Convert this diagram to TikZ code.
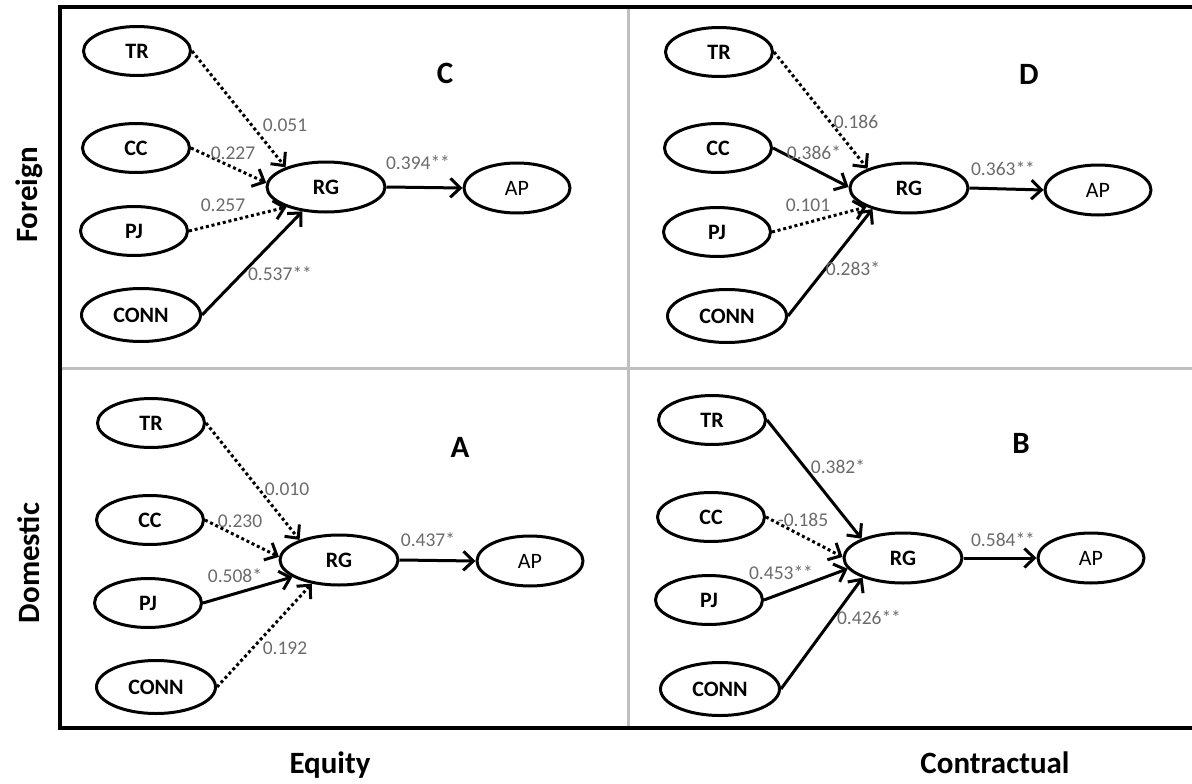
\documentclass[tikz,border=0pt]{standalone}
\usepackage{fontspec}
\setmainfont{Carlito}
\usepackage{tikz}
\usetikzlibrary{shapes.geometric,arrows.meta}
\tikzset{
  latent/.style={ellipse,draw,line width=3pt,inner sep=0pt,
    minimum width=107pt,minimum height=49pt,
    font=\fontsize{22}{26}\selectfont\bfseries},
  wide/.style={minimum width=119pt,minimum height=53pt},
  central/.style={minimum width=118pt,minimum height=50pt},
  outcome/.style={minimum width=106pt,minimum height=50pt,
    font=\fontsize{22}{26}\selectfont},
  sig/.style={-{Straight Barb[length=10pt,width=19pt]},line width=3pt},
  nsig/.style={sig,dash pattern=on 3pt off 2.8pt},
  coef/.style={inner sep=0pt,text=black!58,font=\fontsize{19.5}{21}\selectfont},
  panel/.style={inner sep=0pt,font=\fontsize{31}{35}\selectfont\bfseries},
  axislabel/.style={inner sep=0pt,font=\fontsize{31}{35}\selectfont\bfseries},
  divider/.style={line width=3pt,black!25}
}
\begin{document}
\begin{tikzpicture}[x=1pt,y=-1pt]
\useasboundingbox (0,0) rectangle (1192,784);
% frame of the four cells
\draw[divider] (60,368) -- (1192,368);
\draw[divider] (628,7) -- (628,728);
\draw[line width=3.2pt] (1192,7) -- (60,7) -- (60,728) -- (1192,728);
% 
\node[axislabel,rotate=90] (foreign) at (29,195) {Foreign};
\node[axislabel,rotate=90] (domestic) at (29,563) {Domestic};
\node[axislabel] (equity) at (330,765) {Equity};
\node[axislabel] (contractual) at (995,763) {Contractual};
% C: foreign / equity
\node[latent] (trC) at (137,51) {TR};
\node[latent] (ccC) at (136,148) {CC};
\node[latent] (pjC) at (134,231) {PJ};
\node[latent,wide] (connC) at (141,315) {CONN};
\node[latent,central] (rgC) at (326,187) {RG};
\node[latent,outcome] (apC) at (517,188) {AP};
\node[panel] (labC) at (445,73) {C};
\draw[nsig] (trC.east) -- (rgC.154);
\draw[nsig] (ccC.east) -- (rgC.176);
\draw[nsig] (pjC.east) -- (rgC.207);
\draw[sig] (connC.east) -- (rgC.226);
\draw[sig] (rgC.east) -- (apC.west);
\node[coef] (cTRC) at (285,125) {0.051};
\node[coef] (cCCC) at (233,153) {0.227};
\node[coef] (cPJC) at (223,205) {0.257};
\node[coef] (cCONNC) at (280,274) {0.537**};
\node[coef] (cRGC) at (418,163) {0.394**};
% D: foreign / contractual
\node[latent] (trD) at (719,52) {TR};
\node[latent] (ccD) at (718,148) {CC};
\node[latent] (pjD) at (717,232) {PJ};
\node[latent,wide] (connD) at (727,316) {CONN};
\node[latent,central] (rgD) at (909,188) {RG};
\node[latent,outcome] (apD) at (1098,190) {AP};
\node[panel] (labD) at (1029,74) {D};
\draw[nsig] (trD.east) -- (rgD.155);
\draw[sig] (ccD.east) -- (rgD.179);
\draw[nsig] (pjD.east) -- (rgD.204);
\draw[sig] (connD.east) -- (rgD.210);
\draw[sig] (rgD.east) -- (apD.west);
\node[coef] (cTRD) at (856,122) {0.186};
\node[coef] (cCCD) at (814,153) {0.386*};
\node[coef] (cPJD) at (808,205) {0.101};
\node[coef] (cCONND) at (853,269) {0.283*};
\node[coef] (cRGD) at (1003,169) {0.363**};
% A: domestic / equity
\node[latent] (trA) at (151,423) {TR};
\node[latent] (ccA) at (150,520) {CC};
\node[latent] (pjA) at (148,603) {PJ};
\node[latent,wide] (connA) at (156,687) {CONN};
\node[latent,central] (rgA) at (339,560) {RG};
\node[latent,outcome] (apA) at (530,561) {AP};
\node[panel] (labA) at (460,447) {A};
\draw[nsig] (trA.east) -- (rgA.153);
\draw[nsig] (ccA.east) -- (rgA.177);
\draw[sig] (pjA.east) -- (rgA.200);
\draw[nsig] (connA.east) -- (rgA.221);
\draw[sig] (rgA.east) -- (apA.west);
\node[coef] (cTRA) at (287,489) {0.010};
\node[coef] (cCCA) at (240,521) {0.230};
\node[coef] (cPJA) at (235,576) {0.508*};
\node[coef] (cCONNA) at (285,648) {0.192};
\node[coef] (cRGA) at (428,540) {0.437*};
% B: domestic / contractual
\node[latent] (trB) at (712,420) {TR};
\node[latent] (ccB) at (711,517) {CC};
\node[latent] (pjB) at (709,600) {PJ};
\node[latent,wide] (connB) at (720,689) {CONN};
\node[latent,central] (rgB) at (903,558) {RG};
\node[latent,outcome] (apB) at (1091,558) {AP};
\node[panel] (labB) at (1021,443) {B};
\draw[sig] (trB.east) -- (rgB.155);
\draw[nsig] (ccB.east) -- (rgB.179);
\draw[sig] (pjB.east) -- (rgB.191);
\draw[sig] (connB.east) -- (rgB.206);
\draw[sig] (rgB.east) -- (apB.west);
\node[coef] (cTRB) at (838,467) {0.382*};
\node[coef] (cCCB) at (803,520) {-0.185};
\node[coef] (cPJB) at (781,573) {0.453**};
\node[coef] (cCONNB) at (869,618) {0.426**};
\node[coef] (cRGB) at (1003,540) {0.584**};
\end{tikzpicture}
\end{document}
